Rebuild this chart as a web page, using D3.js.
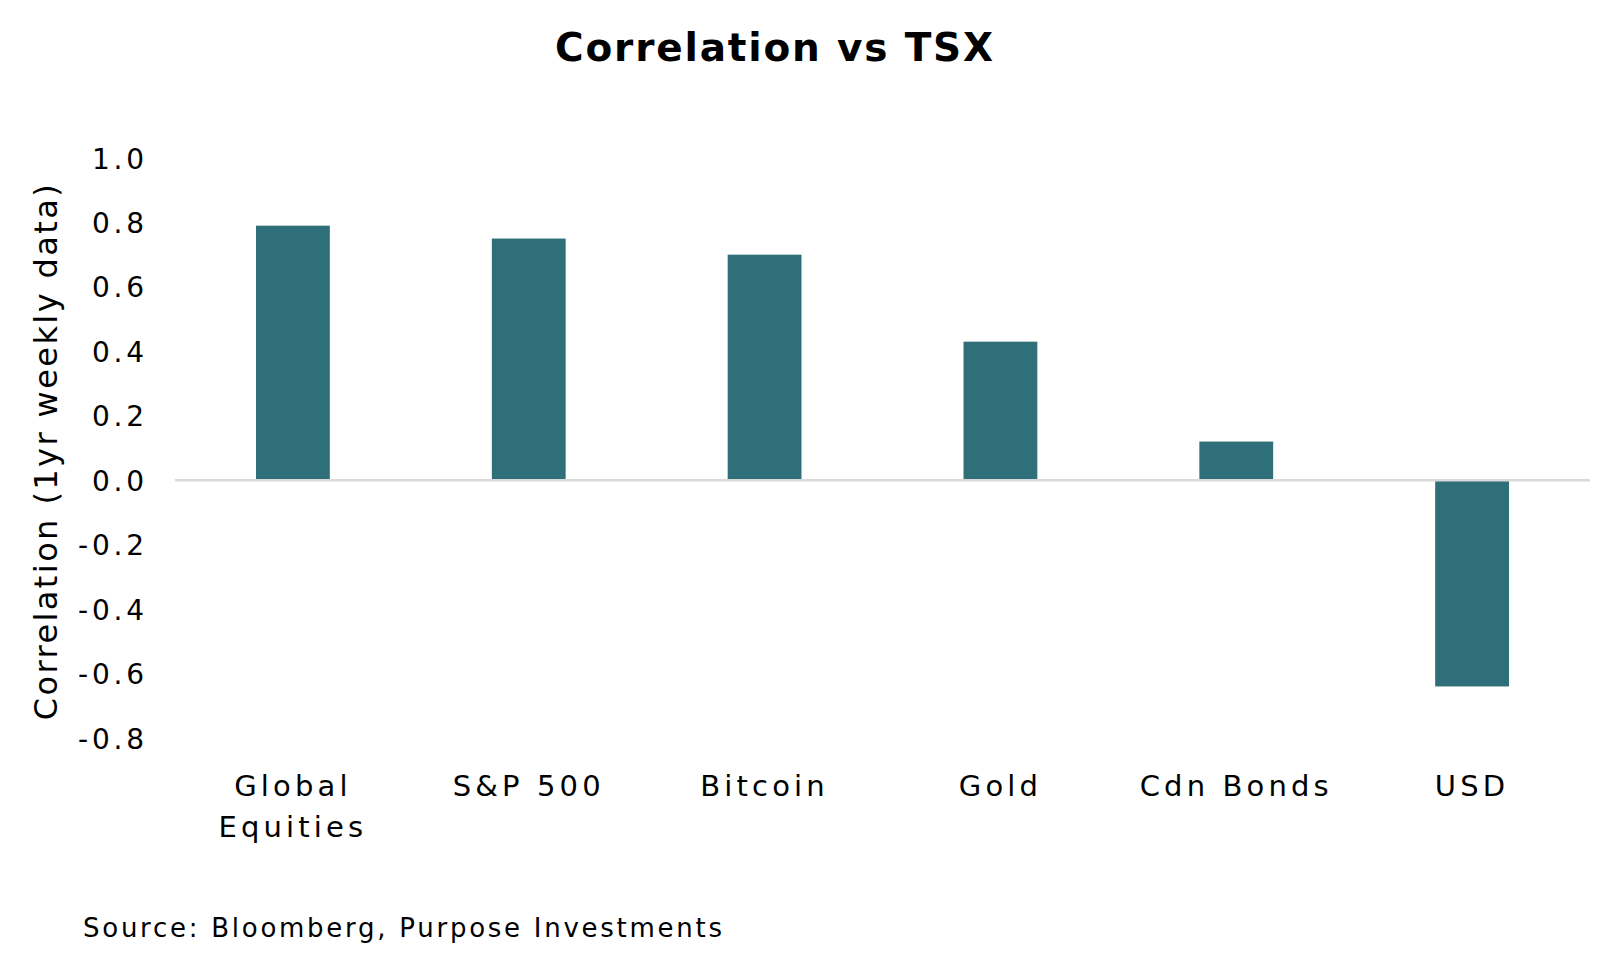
<!DOCTYPE html>
<html>
<head>
<meta charset="utf-8">
<script src="https://cdn.jsdelivr.net/npm/d3@7"></script>
<style>
  html, body { margin: 0; padding: 0; background: #fff; }
  svg { display: block; }
  text { font-family: "DejaVu Sans", "Inter", sans-serif; fill: #000; }
</style>
</head>
<body>
<svg id="chart" width="1610" height="962"></svg>
<script>
const categories = ["Global Equities", "S&P 500", "Bitcoin", "Gold", "Cdn Bonds", "USD"];
const categoryLines = [["Global", "Equities"], ["S&P 500"], ["Bitcoin"], ["Gold"], ["Cdn Bonds"], ["USD"]];
const correlations = [0.79, 0.75, 0.70, 0.43, 0.12, -0.64];
const yTicks = [1.0, 0.8, 0.6, 0.4, 0.2, 0.0, -0.2, -0.4, -0.6, -0.8];
const titleText = "Correlation vs TSX";
const yTitleText = "Correlation (1yr weekly data)";
const sourceText = "Source: Bloomberg, Purpose Investments";

const svg = d3.select("#chart");
const plot = { left: 175, right: 1590, top: 158, bottom: 738 };

const x = d3.scaleBand().domain(categories).range([plot.left, plot.right]).paddingInner(0.687).paddingOuter(0.3435);
const y = d3.scaleLinear().domain([-0.8, 1.0]).range([plot.bottom, plot.top]);

function spacingFor(sel, target) {
  const n = sel.text().length;
  const w = sel.node().getComputedTextLength();
  return (target - w) / (n - 1);
}

// title
const title = svg.append("text")
  .attr("x", 775).attr("y", 61)
  .attr("text-anchor", "middle")
  .style("font-size", "39px").style("font-weight", "bold")
  .text(titleText);
title.attr("letter-spacing", spacingFor(title, 438));

// bars
svg.append("g").selectAll("rect")
  .data(categories.map((c, i) => ({ c, v: correlations[i] })))
  .join("rect")
  .attr("x", d => x(d.c))
  .attr("width", x.bandwidth())
  .attr("y", d => y(Math.max(0, d.v)))
  .attr("height", d => Math.abs(y(d.v) - y(0)))
  .attr("fill", "#2f6f79");

// zero line
svg.append("line")
  .attr("x1", plot.left).attr("x2", plot.right)
  .attr("y1", y(0)).attr("y2", y(0))
  .attr("stroke", "#d9d9d9").attr("stroke-width", 2.5);

// y axis
const fmt = d3.format(".1f");
const yAxis = d3.axisLeft(y).tickValues(yTicks).tickFormat(d => fmt(d).replace("\u2212", "-")).tickSize(0).tickPadding(0);
const gy = svg.append("g").attr("transform", `translate(${plot.left - 31},0)`).call(yAxis);
gy.select(".domain").remove();
gy.selectAll("text").style("font-size", "28px").style("font-family", "DejaVu Sans, sans-serif").attr("fill", "#000").attr("dy", "0.36em");
const refTick = gy.selectAll("text").filter(d => d === -0.8);
const tickLs = spacingFor(refTick, 66);
gy.selectAll("text").attr("letter-spacing", tickLs).attr("dx", tickLs);

// x labels
const gx = svg.append("g");
const xTexts = [];
categoryLines.forEach((lines, i) => {
  const cx = x(categories[i]) + x.bandwidth() / 2;
  const t = gx.append("text")
    .attr("x", cx)
    .attr("y", 796)
    .attr("text-anchor", "middle")
    .style("font-size", "29px");
  lines.forEach((l, j) => {
    t.append("tspan").attr("x", cx).attr("dy", j === 0 ? 0 : 41).text(l);
  });
  xTexts.push(t);
});
const xLs = spacingFor(xTexts[4], 189);
gx.selectAll("text").attr("letter-spacing", xLs);

// y title
const yTitle = svg.append("text")
  .attr("transform", `translate(57,451) rotate(-90)`)
  .attr("text-anchor", "middle")
  .style("font-size", "32px")
  .text(yTitleText);
yTitle.attr("letter-spacing", spacingFor(yTitle, 536));

// source
const src = svg.append("text")
  .attr("x", 83).attr("y", 937)
  .style("font-size", "26px")
  .text(sourceText);
src.attr("letter-spacing", spacingFor(src, 639));
</script>
</body>
</html>
